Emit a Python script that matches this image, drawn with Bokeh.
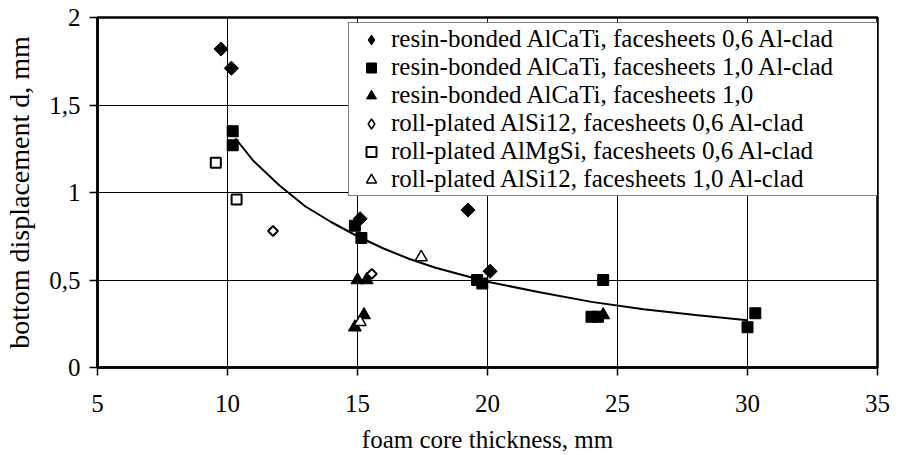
import math
from bokeh.plotting import figure
from bokeh.models import Range1d, FixedTicker, Legend, LegendItem
from bokeh.embed import file_html
from bokeh.resources import INLINE

# ---- data ----
rb06_x = [9.75, 10.15, 15.1, 19.25, 20.1]
rb06_y = [1.82, 1.71, 0.85, 0.90, 0.55]

rb10c_x = [10.2, 10.2, 14.9, 15.15, 19.6, 19.8, 24.45, 24.0, 24.25, 30.0, 30.3]
rb10c_y = [1.35, 1.27, 0.81, 0.74, 0.50, 0.48, 0.50, 0.29, 0.29, 0.23, 0.31]

rb10_x = [15.0, 15.35, 14.9, 15.25, 24.45]
rb10_y = [0.50, 0.50, 0.23, 0.30, 0.30]

rpsi06_x = [11.75, 15.55]
rpsi06_y = [0.78, 0.535]

rpmg06_x = [9.55, 10.35]
rpmg06_y = [1.17, 0.96]

rpsi10_x = [17.45, 15.1]
rpsi10_y = [0.63, 0.26]

trend_x = [10.3, 11, 12, 13, 14, 15, 16, 17, 18, 19, 20, 22, 24, 26, 28, 30]
trend_y = [1.31, 1.18, 1.04, 0.92, 0.83, 0.75, 0.68, 0.62, 0.57, 0.53, 0.49,
           0.43, 0.375, 0.333, 0.30, 0.27]

x_ticks = [5, 10, 15, 20, 25, 30, 35]
y_ticks = [0, 0.5, 1, 1.5, 2]
y_tick_labels = ["0", "0,5", "1", "1,5", "2"]

labels = [
    "resin-bonded AlCaTi, facesheets 0,6 Al-clad",
    "resin-bonded AlCaTi, facesheets 1,0 Al-clad",
    "resin-bonded AlCaTi, facesheets 1,0",
    "roll-plated AlSi12, facesheets 0,6 Al-clad",
    "roll-plated AlMgSi, facesheets 0,6 Al-clad",
    "roll-plated AlSi12, facesheets 1,0 Al-clad",
]

FONT = "Liberation Serif"

p = figure(width=899, height=455, output_backend="svg", toolbar_location=None,
           x_range=Range1d(5, 35), y_range=Range1d(0, 2),
           min_border_left=97, min_border_right=22, min_border_top=17,
           min_border_bottom=88)
p.background_fill_color = "white"
p.border_fill_color = "white"
p.outline_line_color = "black"
p.outline_line_width = 2.5

for ax, ticks in ((p.xaxis[0], x_ticks), (p.yaxis[0], y_ticks)):
    ax.ticker = FixedTicker(ticks=ticks)
    ax.axis_line_width = 2.5
    ax.axis_line_color = "black"
    ax.major_tick_line_color = "black"
    ax.major_tick_line_width = 1.5
    ax.major_tick_out = 8
    ax.major_tick_in = 0
    ax.minor_tick_out = 0
    ax.minor_tick_in = 0
    ax.major_label_text_font = FONT
    ax.major_label_text_font_size = "25px"
    ax.major_label_text_color = "black"
    ax.axis_label_text_font = FONT
    ax.axis_label_text_font_style = "normal"
    ax.axis_label_text_color = "black"

p.xaxis.axis_label = "foam core thickness, mm"
p.yaxis.axis_label = "bottom displacement d, mm"
p.xaxis.axis_label_text_font_size = "25px"
p.yaxis.axis_label_text_font_size = "28px"
p.xaxis.major_label_standoff = 19
p.xaxis.axis_label_standoff = 11
p.yaxis.major_label_standoff = 9
p.yaxis.axis_label_standoff = 11
p.yaxis.major_label_overrides = {t: s for t, s in zip(y_ticks, y_tick_labels)}

p.xgrid.ticker = FixedTicker(ticks=x_ticks)
p.ygrid.ticker = FixedTicker(ticks=y_ticks)
for g in (p.xgrid[0], p.ygrid[0]):
    g.grid_line_color = "black"
    g.grid_line_width = 1

p.line(trend_x, trend_y, line_color="black", line_width=2)

r1 = p.scatter(rb06_x, rb06_y, marker="square", angle=math.pi / 4, size=10,
               fill_color="black", line_color="black")
r2 = p.scatter(rb10c_x, rb10c_y, marker="square", size=11,
               fill_color="black", line_color="black")
r3 = p.scatter(rb10_x, rb10_y, marker="triangle", size=13,
               fill_color="black", line_color="black")
r4 = p.scatter(rpsi06_x, rpsi06_y, marker="square", angle=math.pi / 4, size=7,
               fill_color="white", line_color="black", line_width=2)
r5 = p.scatter(rpmg06_x, rpmg06_y, marker="square", size=10,
               fill_color="white", line_color="black", line_width=2)
r6 = p.scatter(rpsi10_x, rpsi10_y, marker="triangle", size=12,
               fill_color="white", line_color="black", line_width=1.5)

# legend-only glyphs for the diamond series (legend swatches ignore angle)
l1 = p.scatter(rb06_x, rb06_y, marker="diamond", size=12,
               fill_color="black", line_color="black", visible=False)
l4 = p.scatter(rpsi06_x, rpsi06_y, marker="diamond", size=9,
               fill_color="white", line_color="black", line_width=1.5,
               visible=False)

legend = Legend(items=[LegendItem(label=l, renderers=[r]) for l, r in
                       zip(labels, [l1, r2, r3, l4, r5, r6])],
                location=(251, 171), margin=0, padding=2, spacing=0,
                glyph_width=40, glyph_height=25, label_standoff=0,
                label_width=485,
                label_text_font=FONT, label_text_font_size="25px",
                label_text_color="black",
                border_line_color="black", border_line_width=1.5,
                background_fill_color="white", background_fill_alpha=1)
p.add_layout(legend)

open("out.html", "w").write(file_html(p, INLINE))
